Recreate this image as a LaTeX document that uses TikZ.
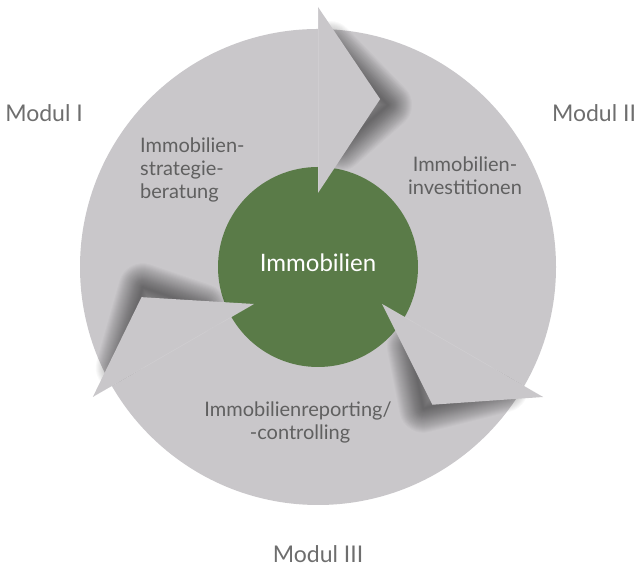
\documentclass[tikz,border=0pt]{standalone}
\usepackage{fontspec}
\setmainfont{Lato}
\definecolor{ringgray}{HTML}{C9C7CA}
\definecolor{hubgreen}{HTML}{5A7B48}
\definecolor{modtext}{HTML}{6E6E6E}
\definecolor{intext}{HTML}{606060}
\tikzset{
  modlabel/.style={anchor=base, inner sep=0pt, text=modtext, font=\fontsize{23}{27}\selectfont},
  inlabel/.style={anchor=base, inner sep=0pt, text=intext, font=\fontsize{20}{24}\selectfont},
  arrowshape/.style={fill=ringgray, draw=none},
  shadowstroke/.style={draw=black, line join=round, line cap=round},
}
\newcommand{\pointer}[1]{%
  \begin{scope}[shift={(318,302)}, rotate=#1]
    \begin{scope}
      \clip (0,-400) rectangle (400,400);
      \foreach \w in {2,4,...,48}{
        \path[shadowstroke, opacity=0.022, line width=\w pt]
          (12,222) -- (70,162) -- (22,120);
      }
    \end{scope}
    \fill[arrowshape] (0,260) -- (62.1,167.9) -- (0,74) -- cycle;
    \draw[white, opacity=0.12, line width=0.6pt] (0,258) -- (0,76);
  \end{scope}}
\begin{document}
\begin{tikzpicture}[x=1pt, y=1pt]
  \useasboundingbox (0,0) rectangle (643,569);
  \node[circle, fill=ringgray, inner sep=0pt, minimum size=476pt] (ring) at (318,302) {};
  \node[circle, fill=hubgreen, inner sep=0pt, minimum size=200pt] (hub) at (318,302) {};
  \pointer{0}
  \pointer{-120}
  \pointer{-240}
  \node[anchor=base, inner sep=0pt, text=white, font=\fontsize{24}{28}\selectfont] (hubtext) at (318,297) {Immobilien};
  \node[modlabel] (m1) at (44,447) {Modul I};
  \node[modlabel] (m2) at (594,447) {Modul II};
  \node[modlabel] (m3) at (318,6) {Modul III};
  \node[inlabel, anchor=base west] (s1) at (140,416) {Immobilien-};
  \node[inlabel, anchor=base west] (s2) at (140,393) {strategie-};
  \node[inlabel, anchor=base west] (s3) at (140,370) {beratung};
  \node[inlabel] (i1) at (465,397) {Immobilien-};
  \node[inlabel] (i2) at (465,374) {investitionen};
  \node[inlabel] (r1) at (298,152) {Immobilienreporting/};
  \node[inlabel] (r2) at (300,129) {-controlling};
\end{tikzpicture}
\end{document}
